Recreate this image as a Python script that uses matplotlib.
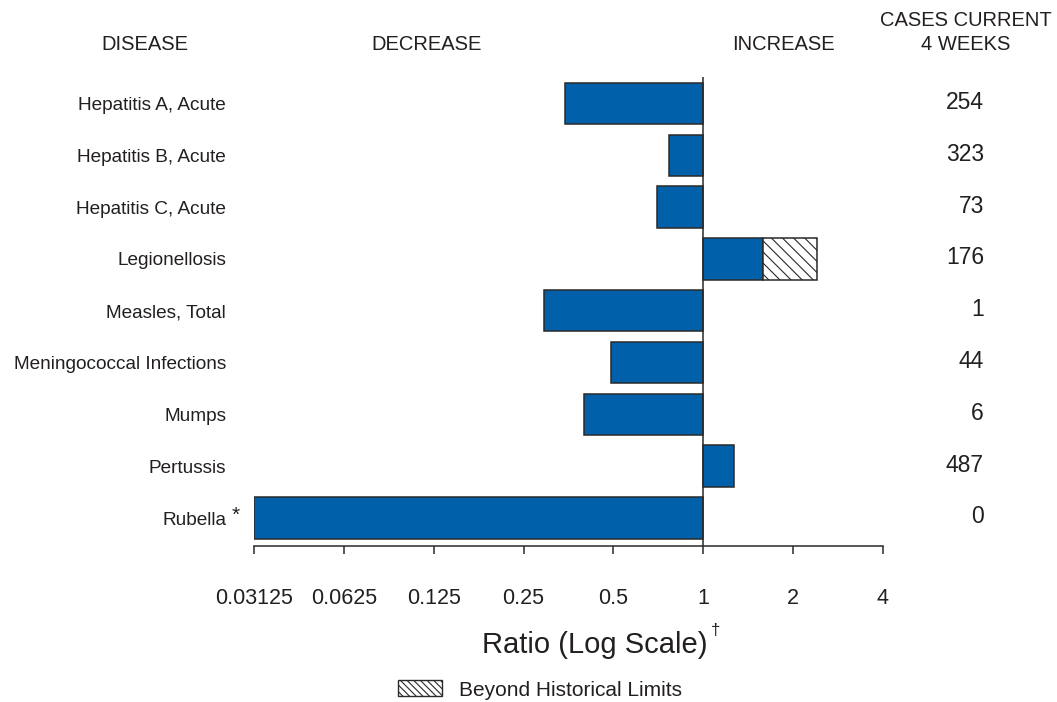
import numpy as np
import matplotlib.pyplot as plt
from matplotlib.patches import Patch
from matplotlib.transforms import blended_transform_factory

plt.rcParams['font.family'] = ['Liberation Sans', 'DejaVu Sans']
plt.rcParams['hatch.linewidth'] = 0.8
plt.rcParams['hatch.color'] = '#333333'

# datos
enfermedades = ['Hepatitis A, Acute', 'Hepatitis B, Acute', 'Hepatitis C, Acute',
                'Legionellosis', 'Measles, Total', 'Meningococcal Infections',
                'Mumps', 'Pertussis', 'Rubella']
razon = [0.343, 0.769, 0.701, 2.41, 0.293, 0.492, 0.397, 1.27, 0.03125]  # rubella cortada en el eje
limite_historico = [None, None, None, 1.58, None, None, None, None, None]
casos = [254, 323, 73, 176, 1, 44, 6, 487, 0]
ticks = [0.03125, 0.0625, 0.125, 0.25, 0.5, 1, 2, 4]
etiquetas_ticks = ['0.03125', '0.0625', '0.125', '0.25', '0.5', '1', '2', '4']

azul = '#0060A9'
borde = '#2a2a2a'
texto = '#231f20'

fig = plt.figure(figsize=(10.57, 7.02), dpi=100)
ax = fig.add_axes([254/1057, 1-546/702, (883-254)/1057, (546-77)/702])

y = np.arange(len(enfermedades))
for i, r in enumerate(razon):
    lim = limite_historico[i]
    if lim is not None:
        ax.barh(i, lim - 1, left=1, height=0.8, color=azul, edgecolor=borde, linewidth=1.1)
        ax.barh(i, r - lim, left=lim, height=0.8, color='white', edgecolor=borde,
                linewidth=1.1, hatch='\\\\\\')
    elif r < 1:
        ax.barh(i, 1 - r, left=r, height=0.8, color=azul, edgecolor=borde, linewidth=1.1)
    else:
        ax.barh(i, r - 1, left=1, height=0.8, color=azul, edgecolor=borde, linewidth=1.1)

ax.set_xscale('log', base=2)
ax.set_xlim(ticks[0], ticks[-1])
ax.set_ylim(8.54, -0.51)
ax.axvline(1, color=borde, linewidth=1.1)

ax.set_xticks(ticks)
ax.set_xticklabels(etiquetas_ticks, fontsize=15.5, color=texto)
ax.xaxis.set_minor_locator(plt.NullLocator())
ax.tick_params(axis='x', direction='out', length=6, width=1.1, color=borde, pad=24)

ax.set_yticks(y)
ax.set_yticklabels(enfermedades, fontsize=13.7, color=texto)
ax.tick_params(axis='y', length=0, pad=20)

for s in ['top', 'right', 'left']:
    ax.spines[s].set_visible(False)
ax.spines['bottom'].set_linewidth(1.1)
ax.spines['bottom'].set_color(borde)

# asterisco de rubella
tr_ax = blended_transform_factory(fig.transFigure, ax.transData)
ax.text(236/1057, 8 - 0.06, '*', transform=tr_ax, fontsize=15, ha='center',
        va='center', color=texto)

# casos de las ultimas 4 semanas
for i, c in enumerate(casos):
    ax.text(984/1057, i - 0.02, str(c), transform=tr_ax, fontsize=16.5, ha='right',
            va='center', color=texto)

# encabezados
fig.text(145/1057, 1-44/702, 'DISEASE', fontsize=14.5, ha='center', va='center', color=texto)
fig.text(427/1057, 1-44/702, 'DECREASE', fontsize=14.5, ha='center', va='center', color=texto)
fig.text(783/1057, 1-44/702, 'INCREASE', fontsize=14.5, ha='center', va='center', color=texto)
fig.text(966/1057, 1-21/702, 'CASES CURRENT', fontsize=14.5, ha='center', va='center', color=texto)
fig.text(966/1057, 1-44/702, '4 WEEKS', fontsize=14.5, ha='center', va='center', color=texto)

# titulo del eje
fig.text(594.5/1057, 1-645/702, 'Ratio (Log Scale)', fontsize=21, ha='center',
         va='center', color=texto)
fig.text(715/1057, 1-631/702, '†', fontsize=12, ha='center', va='center', color=texto)

# leyenda
fig.legend(handles=[Patch(facecolor='white', edgecolor=borde, hatch='\\\\\\\\\\',
                          linewidth=1.0, label='Beyond Historical Limits')],
           loc='center', bbox_to_anchor=(540/1057, 1-690/702), frameon=False,
           fontsize=15, handlelength=2.1, handleheight=0.8, handletextpad=0.8,
           borderpad=0, labelcolor=texto)

fig.savefig('out.png', dpi=100)
